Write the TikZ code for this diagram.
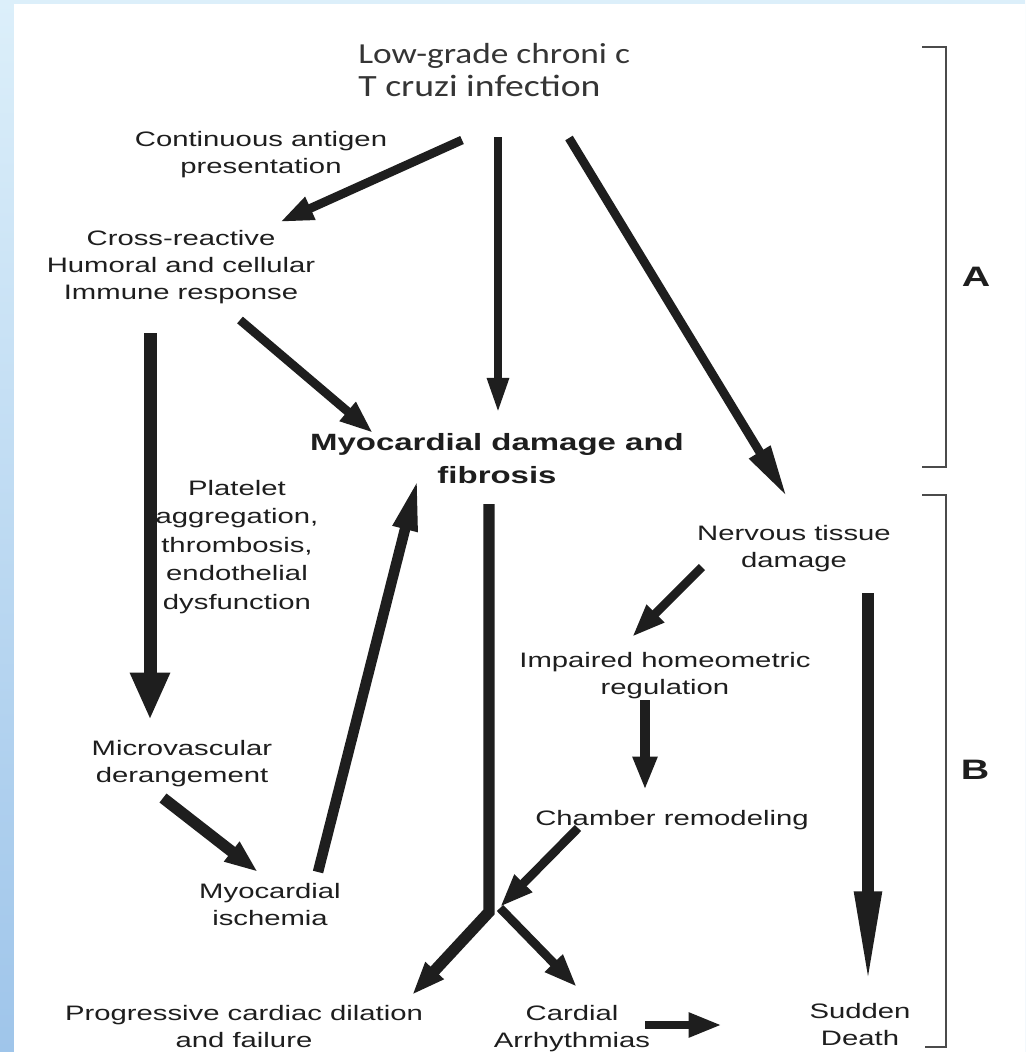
\documentclass[tikz,border=0pt]{standalone}
\usepackage{fontspec}
\setmainfont{Liberation Sans}[FakeStretch=1.4]
\newfontfamily\capfont{Carlito}[FakeStretch=1.22]
\usepackage{xcolor}
\usetikzlibrary{arrows.meta, calc}
\definecolor{ink}{HTML}{1E1E1E}
\definecolor{skyA}{HTML}{DCEFFA}
\definecolor{skyB}{HTML}{9FC5EA}
\tikzset{
  txt/.style={align=center, anchor=north, inner sep=0pt, text=ink, font=\fontsize{11.9}{15.3}\selectfont},
  hdr/.style={align=left, anchor=north west, inner sep=0pt, text=ink!90, font=\capfont\fontsize{17.6}{18.7}\selectfont},
  key/.style={inner sep=0pt, text=ink, font=\bfseries\fontsize{16}{18}\selectfont},
  flow/.style={draw=ink, line width=5pt, -{Triangle[length=19pt, width=13pt]}},
  heavy/.style={draw=ink, line width=7.4pt, -{Triangle[length=27pt, width=21pt]}},
  spear/.style={draw=ink, line width=5pt, -{Triangle[length=30pt, width=13pt]}},
  lance/.style={draw=ink, line width=7pt, -{Triangle[length=55pt, width=14pt]}},
  bracket/.style={draw=ink!80, line width=1.1pt}
}

\begin{document}
\begin{tikzpicture}[x=0.02cm, y=-0.02cm]
    \useasboundingbox (0,0) rectangle (1025,1052);
    % slide frame
    \shade[top color=skyA, bottom color=skyB] (0,0) rectangle (1025,1052);
    \fill[white] (14,4) rectangle (1025,1052);

    \node[hdr] (infect) at (358,43) {{\fontsize{16.5}{18.7}\selectfont Low-grade chroni c}\\T cruzi infection};
    \node[txt] (antigen) at (261,131) {Continuous antigen\\presentation};
    \node[txt] (cross) at (181,230) {Cross-reactive\\Humoral and cellular\\Immune response};
    \node[txt, font=\bfseries\fontsize{13.4}{18.7}\selectfont] (myo) at (497,433) {Myocardial damage and\\fibrosis};
    \node[txt, font=\fontsize{11.9}{16.2}\selectfont] (platelet) at (237,480) {Platelet\\aggregation,\\thrombosis,\\endothelial\\dysfunction};
    \node[txt] (micro) at (182,740) {Microvascular\\derangement};
    \node[txt] (ischemia) at (270,883) {Myocardial\\ischemia};
    \node[txt] (nervous) at (794,525) {Nervous tissue\\damage};
    \node[txt] (impaired) at (665,652) {Impaired homeometric\\regulation};
    \node[txt] (chamber) at (672,810) {Chamber remodeling};
    \node[txt] (progress) at (244,1005) {Progressive cardiac dilation\\and failure};
    \node[txt] (cardial) at (572,1005) {Cardial\\Arrhythmias};
    \node[txt] (sudden) at (860,1003) {Sudden\\Death};
    \node[key] (phaseA) at (976,277) {A};
    \node[key] (phaseB) at (975,770) {B};
    \coordinate (split) at (489,912);

    % stage A
    \draw[flow] ($(infect.north west)+(104,97)$) -- ($(cross.north)+(99,-8)$);
    \draw[flow, line width=4.5pt, -{Triangle[length=20pt, width=11.5pt]}] ($(infect.north west)+(140,94)$) -- ($(myo.north)+(1,-20)$);
    \draw[spear] ($(infect.north west)+(211,95)$) -- ($(nervous.north)+(-7,-28)$);
    \draw[flow] ($(cross.north)+(59,90)$) -- ($(myo.north)+(-124,0)$);
    \draw[heavy] ($(cross.north)+(-31,103)$) -- ($(micro.north)+(-32,-20)$);
    \draw[flow, line width=6.5pt] ($(micro.north)+(-19,58)$) -- ($(ischemia.north)+(-12,-11)$);
    \draw[spear, line width=6pt] ($(ischemia.north)+(48,-11)$) -- ($(myo.north)+(-79,45)$);

    % stage B
    \draw[flow, line width=6.5pt] ($(myo.north)+(-8,71)$) -- (split) -- ($(progress.north)+(168,-10)$);
    \draw[flow] ($(split)+(11,-4)$) -- ($(cardial.north)+(5,-18)$);
    \draw[flow] ($(chamber.north)+(-94,18)$) -- ($(split)+(11,-5)$);
    \draw[flow] ($(nervous.north)+(-92,42)$) -- ($(impaired.north)+(-33,-15)$);
    \draw[flow, line width=5.5pt] ($(impaired.north)+(-20,48)$) -- ($(chamber.north)+(-27,-20)$);
    \draw[lance] ($(nervous.north)+(74,68)$) -- ($(sudden.north)+(8,-15)$);
    \draw[flow] ($(cardial.north)+(73,20)$) -- ($(sudden.north)+(-138,22)$);

    \draw[bracket] (922,47) -- (946,47) -- (946,467) -- (922,467);
    \draw[bracket] (922,495) -- (946,495) -- (946,1047) -- (925,1047);
\end{tikzpicture}
\end{document}
